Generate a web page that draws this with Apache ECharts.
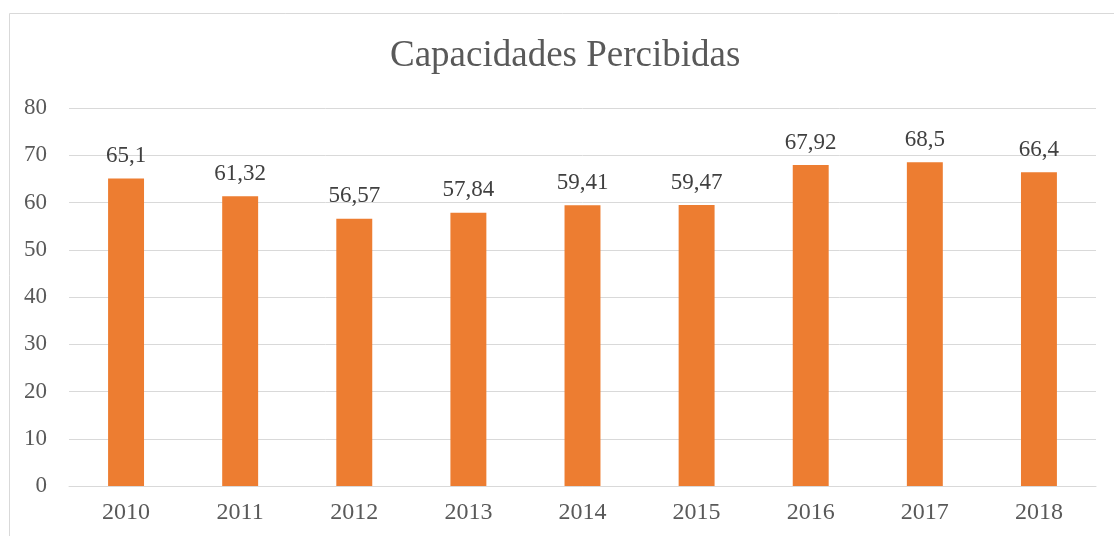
<!DOCTYPE html>
<html><head><meta charset="utf-8">
<script src="https://cdn.jsdelivr.net/npm/echarts@6/dist/echarts.min.js"></script>
<style>html,body{margin:0;padding:0;background:#fff}#c{width:1114px;height:536px}</style>
</head><body><div id="c"></div>
<script>
const categories = ['2010','2011','2012','2013','2014','2015','2016','2017','2018'];
const values = [65.1, 61.32, 56.57, 57.84, 59.41, 59.47, 67.92, 68.5, 66.4];
const labels = ['65,1','61,32','56,57','57,84','59,41','59,47','67,92','68,5','66,4'];
const yTicks = [0,10,20,30,40,50,60,70,80];

const font = '"Liberation Serif", "Times New Roman", serif';
const chart = echarts.init(document.getElementById('c'));
chart.setOption({
  animation: false,
  graphic: [{
    type: 'rect', left: 7, top: 11, silent: true,
    shape: {x: 0, y: 0, width: 1120, height: 540},
    style: {fill: 'none', stroke: '#d9d9d9', lineWidth: 1}
  }],
  title: {
    text: 'Capacidades Percibidas', left: 385, top: 33,
    textStyle: {fontFamily: font, fontSize: 37, fontWeight: 'normal', color: '#595959'}
  },
  grid: {left: 69, right: 18, top: 108, bottom: 50},
  xAxis: {
    type: 'category', data: categories,
    axisLine: {lineStyle: {color: '#d9d9d9'}},
    axisTick: {show: false},
    axisLabel: {fontFamily: font, fontSize: 24, color: '#595959', margin: 15}
  },
  yAxis: {
    type: 'value', min: yTicks[0], max: yTicks[yTicks.length-1], interval: 10,
    axisLine: {show: false}, axisTick: {show: false},
    splitLine: {lineStyle: {color: '#d9d9d9', width: 1}},
    axisLabel: {fontFamily: font, fontSize: 23, color: '#595959', margin: 22}
  },
  series: [{
    type: 'bar', data: values, barWidth: '31.5%',
    itemStyle: {color: '#ED7D31'},
    label: {
      show: true, position: 'top', distance: 11,
      fontFamily: font, fontSize: 23, color: '#404040',
      formatter: p => labels[p.dataIndex]
    }
  }]
});
</script></body></html>
